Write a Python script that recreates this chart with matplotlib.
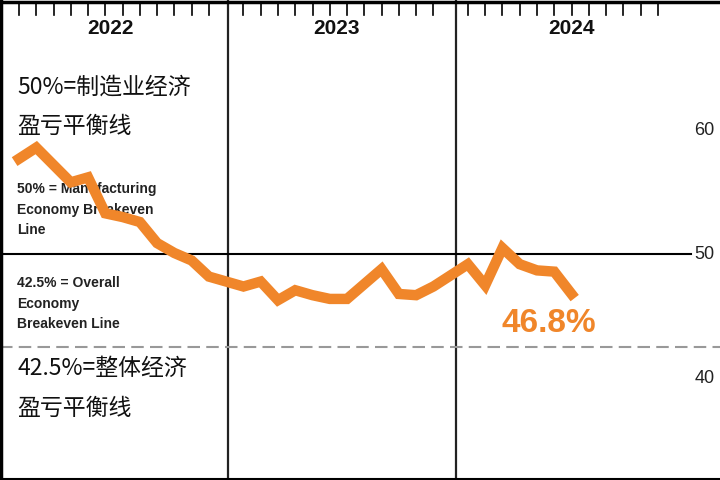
import matplotlib
matplotlib.use("Agg")
import matplotlib.pyplot as plt
from matplotlib import font_manager as fm

idx_2022 = [0, 1, 2, 3, 4, 5, 6, 7, 8, 9, 10, 11]
val_2022 = [57.7, 58.6, 57.2, 55.8, 56.2, 53.3, 53.0, 52.6, 50.9, 50.1, 49.5, 48.2]
idx_2023 = [13, 14, 15, 16, 17, 18, 19, 20, 21, 22, 23, 24]
val_2023 = [47.4, 47.8, 46.3, 47.1, 46.7, 46.4, 46.4, 47.6, 48.8, 46.8, 46.7, 47.4]
idx_2024 = [26, 27, 28, 29, 30, 31, 32]
val_2024 = [49.2, 47.5, 50.5, 49.2, 48.7, 48.6, 46.8]
years = ["2022", "2023", "2024"]
y_ticks = [40, 50, 60]

names = {f.name for f in fm.fontManager.ttflist}
narrow = "Liberation Sans Narrow" if "Liberation Sans Narrow" in names else "Liberation Sans"
cjk = "Noto Sans CJK SC"

x = idx_2022 + idx_2023 + idx_2024
y = val_2022 + val_2023 + val_2024

fig = plt.figure(figsize=(7.2, 4.8), dpi=100)
ax = fig.add_axes([0, 0, 1, 1])
ax.set_xlim(-1.1, 40.6)
ax.set_ylim(31.8, 70.5)
ax.axis("off")

ax.plot([-1.05, -1.05], [31.8, 70.5], color="black", lw=2.5, zorder=3)
ax.plot([-1.1, 40.6], [70.3, 70.3], color="black", lw=2.5, zorder=3)
ax.plot([-1.1, 40.6], [31.9, 31.9], color="black", lw=1.5, zorder=3)
for xv in [12.1, 25.3]:
    ax.axvline(xv, color="#222222", lw=1.6, zorder=2)
for start in [0, 13, 26]:
    for k in range(12):
        ax.plot([start + k, start + k], [70.3, 69.3], color="black", lw=1.2)
ax.plot([-1.1, 38.9], [50, 50], color="black", lw=1.5, zorder=2)
ax.plot([-1.1, 40.6], [42.5, 42.5], color="#999999", lw=1.5, ls=(0, (6, 3)), zorder=2)

for xc, yr in zip([5.3, 18.4, 32.0], years):
    ax.text(xc, 68.2, yr, ha="center", va="center", fontsize=15, fontweight="bold",
            family=narrow, color="#111111")
for v in y_ticks:
    ax.text(40.3, v, str(v), ha="right", va="center", fontsize=13, family=narrow, color="#222222")

ax.plot(x, y, color="#F0862A", lw=7.5, solid_joinstyle="miter", zorder=4)

kw = dict(family=cjk, fontsize=16.5, fontweight="medium", va="center", color="#111111")
ax.text(-0.1, 63.5, "50%=制造业经济", **kw)
ax.text(-0.1, 60.3, "盈亏平衡线", **kw)
ax.text(-0.1, 40.8, "42.5%=整体经济", **kw)
ax.text(-0.1, 37.6, "盈亏平衡线", **kw)
ax.text(-0.1, 53.6, "50% = Manufacturing\nEconomy Breakeven\nLine", family=narrow,
        fontsize=10, fontweight="bold", va="center", linespacing=1.6, color="#222222")
ax.text(-0.1, 46.0, "42.5% = Overall\nEconomy\nBreakeven Line", family=narrow,
        fontsize=10, fontweight="bold", va="center", linespacing=1.6, color="#222222")
ax.text(30.7, 44.4, "46.8%", family=narrow, fontsize=24, fontweight="bold",
        color="#F0862A", ha="center", va="center")

fig.savefig("out.png", dpi=100)
